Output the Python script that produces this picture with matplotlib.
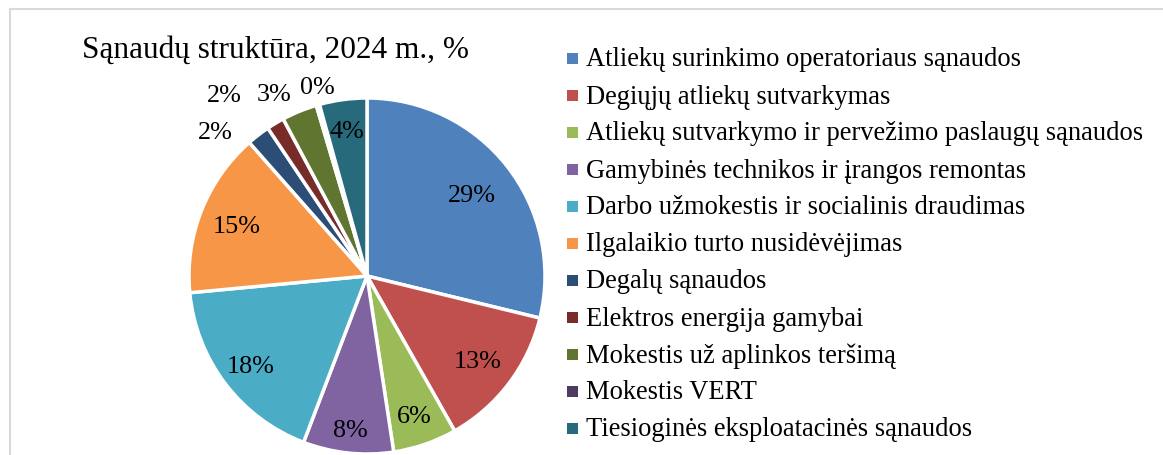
import matplotlib
matplotlib.use("Agg")
import matplotlib.pyplot as plt
from matplotlib.patches import Rectangle
from matplotlib.lines import Line2D
import numpy as np

plt.rcParams['font.family'] = ['Liberation Serif', 'DejaVu Serif']

title = "Sąnaudų struktūra, 2024 m., %"
categories = [
    "Atliekų surinkimo operatoriaus sąnaudos",
    "Degiųjų atliekų sutvarkymas",
    "Atliekų sutvarkymo ir pervežimo paslaugų sąnaudos",
    "Gamybinės technikos ir įrangos remontas",
    "Darbo užmokestis ir socialinis draudimas",
    "Ilgalaikio turto nusidėvėjimas",
    "Degalų sąnaudos",
    "Elektros energija gamybai",
    "Mokestis už aplinkos teršimą",
    "Mokestis VERT",
    "Tiesioginės eksploatacinės sąnaudos",
]
values = [28.8, 13.0, 5.8, 8.2, 17.7, 15.0, 2.1, 1.6, 3.2, 0.3, 4.3]
colors = ["#4F81BD", "#C0504D", "#9BBB59", "#8064A2", "#4BACC6", "#F79646",
          "#2C4D75", "#772C2A", "#5F7530", "#4D3B62", "#276A7C"]

# label placement (style): radial factor and angle shift (degrees) per slice
label_r = [0.75, 0.78, 0.82, 0.86, 0.82, 0.79, 1.18, 1.30, 1.16, 1.11, 0.83]
label_dang = [0, 0, 0, 0, 0, 0, 8.5, 7.0, 4.5, -1.5, 0]

W, H = 1163, 456
fig = plt.figure(figsize=(W / 100, H / 100), dpi=100)

# frame
fig.add_artist(Line2D([10 / W, 1], [1 - 10 / H, 1 - 10 / H], color="#D9D9D9", lw=1.5))
fig.add_artist(Line2D([10 / W, 10 / W], [0, 1 - 10 / H], color="#D9D9D9", lw=1.5))

cx, cy, R = 367, 277, 178
ax = fig.add_axes([(cx - R) / W, (H - cy - R) / H, 2 * R / W, 2 * R / H])
wedges, _ = ax.pie(values, colors=colors, startangle=90, counterclock=False,
                   radius=1, wedgeprops=dict(edgecolor="white", linewidth=2.5))
ax.set_xlim(-1, 1)
ax.set_ylim(-1, 1)
ax.set_aspect("equal")
ax.axis("off")
for w in wedges:
    w.set_clip_on(False)

for w, v, r, da in zip(wedges, values, label_r, label_dang):
    ang = np.deg2rad((w.theta1 + w.theta2) / 2 + da)
    ax.text(r * np.cos(ang), r * np.sin(ang) - 0.01, f"{round(v):.0f}%",
            ha="center", va="center", fontsize=18.8, color="black", clip_on=False)

fig.text(275 / W, 1 - 50 / H, title, ha="center", va="center", fontsize=22.5)

# legend
y0, dy = 60, 37
for i, (lab, c) in enumerate(zip(categories, colors)):
    y = y0 + i * dy
    fig.add_artist(Rectangle((567 / W, 1 - (y + 5) / H), 11 / W, 11 / H,
                             facecolor=c, edgecolor="none", transform=fig.transFigure))
    fig.text(586 / W, 1 - y / H, lab, ha="left", va="center", fontsize=19.1)

fig.savefig("out.png", dpi=100)
